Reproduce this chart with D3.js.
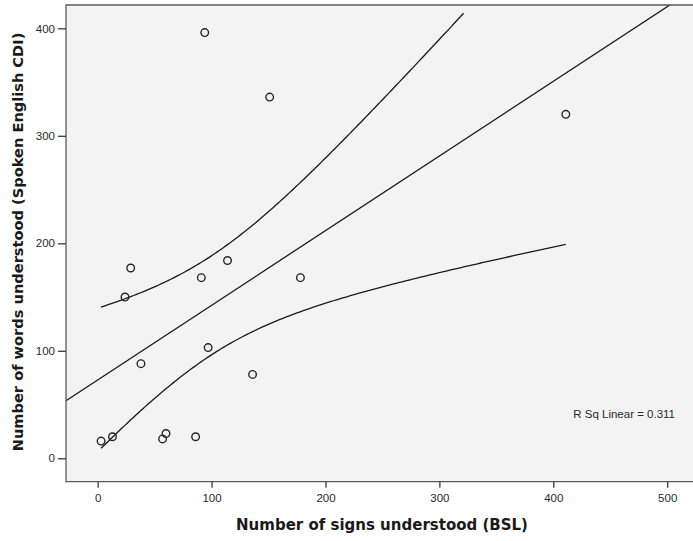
<!DOCTYPE html>
<html>
<head>
<meta charset="utf-8">
<script src="https://cdn.jsdelivr.net/npm/d3@7/dist/d3.min.js"></script>
<style>
  html, body { margin: 0; padding: 0; background: #ffffff; }
  svg { display: block; }
</style>
</head>
<body>
<div id="chart"></div>
<script>
// Signs understood (BSL) vs words understood (spoken English CDI), one point per child
const signsBSL   = [3, 13, 24, 29, 38, 57, 60, 86, 91, 94, 97, 114, 136, 151, 178, 411];
const wordsCDI   = [16, 20, 150, 177, 88, 18, 23, 20, 168, 396, 103, 184, 78, 336, 168, 320];
const xTicks     = [0, 100, 200, 300, 400, 500];
const yTicks     = [0, 100, 200, 300, 400];
const xTitle     = "Number of signs understood (BSL)";
const yTitle     = "Number of words understood (Spoken English CDI)";
const rSqLabel   = "R Sq Linear = 0.311";
const tCrit      = 1.761;   // t(0.95, df = 14): two-sided 90% interval for the mean
const bandTop    = [414];   // upper band is drawn up to this value

const W = 693, H = 541;
const plot = { left: 66, right: 700, top: 5, bottom: 481.7 };

const svg = d3.select("#chart").append("svg")
  .attr("width", W).attr("height", H);

const x = d3.scaleLinear().domain([-27.8, 528.8]).range([plot.left, plot.right]);
const y = d3.scaleLinear().domain([-21.8, 421.7]).range([plot.bottom, plot.top]);

// plot background
svg.append("rect")
  .attr("x", plot.left).attr("y", plot.top)
  .attr("width", plot.right - plot.left).attr("height", plot.bottom - plot.top)
  .attr("fill", "#f3f3f3");

svg.append("clipPath").attr("id", "clip")
  .append("rect")
  .attr("x", plot.left).attr("y", plot.top)
  .attr("width", plot.right - plot.left).attr("height", plot.bottom - plot.top);

// least-squares fit and interval for the mean
const n = signsBSL.length;
const mx = d3.mean(signsBSL), my = d3.mean(wordsCDI);
let sxx = 0, sxy = 0;
for (let i = 0; i < n; i++) {
  sxx += (signsBSL[i] - mx) ** 2;
  sxy += (signsBSL[i] - mx) * (wordsCDI[i] - my);
}
const slope = sxy / sxx, intercept = my - slope * mx;
let sse = 0;
for (let i = 0; i < n; i++) sse += (wordsCDI[i] - intercept - slope * signsBSL[i]) ** 2;
const s = Math.sqrt(sse / (n - 2));
const fit = v => intercept + slope * v;
const half = v => tCrit * s * Math.sqrt(1 / n + (v - mx) ** 2 / sxx);

const xMin = d3.min(signsBSL), xMax = d3.max(signsBSL);
const grid = d3.range(0, 201).map(i => xMin + (xMax - xMin) * i / 200);

const line = d3.line().x(d => x(d[0])).y(d => y(d[1]));
const g = svg.append("g").attr("clip-path", "url(#clip)");

const lineStyle = sel => sel.attr("fill", "none").attr("stroke", "#1a1a1a").attr("stroke-width", 1.3);

g.append("path")
  .datum(x.domain().map(v => [v, fit(v)]))
  .attr("d", line).call(lineStyle);

g.append("path")
  .datum(grid.map(v => [v, fit(v) + half(v)]).filter(d => d[1] <= bandTop[0]))
  .attr("d", line).call(lineStyle);

g.append("path")
  .datum(grid.map(v => [v, fit(v) - half(v)]))
  .attr("d", line).call(lineStyle);

// points
svg.append("g").selectAll("circle")
  .data(signsBSL.map((v, i) => [v, wordsCDI[i]]))
  .join("circle")
  .attr("cx", d => x(d[0])).attr("cy", d => y(d[1]))
  .attr("r", 3.8)
  .attr("fill", "none").attr("stroke", "#262626").attr("stroke-width", 1.4);

// frame
svg.append("path")
  .attr("d", `M${plot.right},${plot.top}H${plot.left}V${plot.bottom}H${plot.right}`)
  .attr("fill", "none").attr("stroke", "#5a5a5a").attr("stroke-width", 1.3);

// axes
const xAxis = svg.append("g")
  .attr("transform", `translate(0,${plot.bottom})`)
  .call(d3.axisBottom(x).tickValues(xTicks).tickSize(6).tickPadding(6).tickFormat(d3.format("d")));
const yAxis = svg.append("g")
  .attr("transform", `translate(${plot.left},0)`)
  .call(d3.axisLeft(y).tickValues(yTicks).tickSize(8).tickPadding(3).tickFormat(d3.format("d")));

[xAxis, yAxis].forEach(a => {
  a.select(".domain").remove();
  a.selectAll(".tick line").attr("stroke", "#3a3a3a").attr("stroke-width", 1.3);
  a.selectAll(".tick text")
    .attr("fill", "#2a2a2a")
    .style("font-family", "'Liberation Sans', Arial, sans-serif")
    .style("font-size", "11.5px");
});

// titles
svg.append("text")
  .attr("x", 382).attr("y", 530)
  .attr("text-anchor", "middle")
  .style("font-family", "'DejaVu Sans', Verdana, sans-serif")
  .style("font-weight", "bold").style("font-size", "15px")
  .attr("fill", "#1a1a1a")
  .text(xTitle);

svg.append("text")
  .attr("transform", "translate(23,242) rotate(-90)")
  .attr("text-anchor", "middle")
  .style("font-family", "'DejaVu Sans', Verdana, sans-serif")
  .style("font-weight", "bold").style("font-size", "14.6px")
  .attr("fill", "#1a1a1a")
  .text(yTitle);

svg.append("text")
  .attr("x", 675).attr("y", 418)
  .attr("text-anchor", "end")
  .style("font-family", "'Liberation Sans', Arial, sans-serif")
  .style("font-size", "11.5px")
  .attr("fill", "#2a2a2a")
  .text(rSqLabel);
</script>
</body>
</html>
